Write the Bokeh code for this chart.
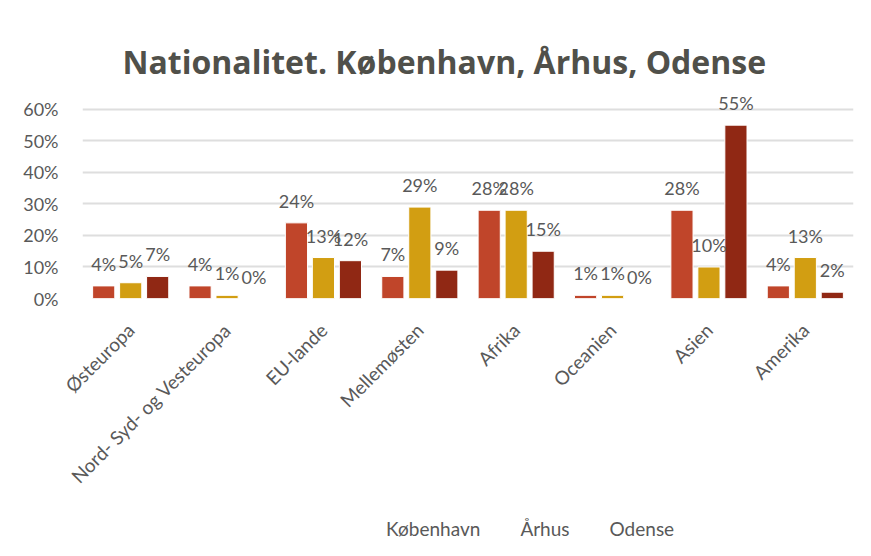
from bokeh.plotting import figure
from bokeh.models import (ColumnDataSource, LabelSet, NumeralTickFormatter, Legend, LegendItem,
                          Title, Range1d)
from bokeh.layouts import column
from bokeh.core.properties import value
from bokeh.transform import dodge
from bokeh.embed import file_html
from bokeh.resources import INLINE
from math import pi

categories = ["Østeuropa", "Nord- Syd- og Vesteuropa", "EU-lande", "Mellemøsten",
              "Afrika", "Oceanien", "Asien", "Amerika"]
series_names = ["København", "Århus", "Odense"]
kobenhavn = [0.04, 0.04, 0.24, 0.07, 0.28, 0.01, 0.28, 0.04]
aarhus = [0.05, 0.01, 0.13, 0.29, 0.28, 0.01, 0.10, 0.13]
odense = [0.07, 0.00, 0.12, 0.09, 0.15, 0.00, 0.55, 0.02]
y_ticks = [0, 0.1, 0.2, 0.3, 0.4, 0.5, 0.6]

colors = ["#C0452A", "#D29E12", "#902814"]
FONT = "Lato"
GRAY = "#595959"

p = figure(x_range=categories, y_range=(0, 0.66), width=863, height=505,
           output_backend="svg", toolbar_location=None,
           min_border_left=82, min_border_right=10, min_border_top=90, min_border_bottom=207)

t = Title(text="Nationalitet. København, Århus, Odense", align="left",
          text_font="Open Sans", text_font_size="32px", text_font_style="bold",
          text_color="#50504A", standoff=16, offset=40)
p.add_layout(t, "above")

offsets = [-0.28, 0.0, 0.28]
series = [kobenhavn, aarhus, odense]
data = dict(cat=categories)
for name, vals in zip(series_names, series):
    data[name] = vals
    data[name + "_lbl"] = ["%d%%" % round(v * 100) for v in vals]
src = ColumnDataSource(data)

for name, off, col in zip(series_names, offsets, colors):
    p.vbar(x=dodge("cat", off, range=p.x_range), top=name, width=0.23, source=src,
           fill_color=col, line_color="white", line_width=1)
    lbl = LabelSet(x=dodge("cat", off, range=p.x_range), y=name, text=name + "_lbl",
                   source=src, text_align="center", text_baseline="alphabetic",
                   y_offset=15, text_font=value(FONT), text_font_size="18px", text_color=GRAY)
    p.add_layout(lbl)

p.yaxis.ticker = y_ticks
p.yaxis.formatter = NumeralTickFormatter(format="0%")
p.yaxis.axis_line_color = None
p.yaxis.major_tick_line_color = None
p.yaxis.minor_tick_line_color = None
p.yaxis.major_label_text_font = FONT
p.yaxis.major_label_text_font_size = "18px"
p.yaxis.major_label_text_color = GRAY
p.yaxis.major_label_standoff = 18

p.xaxis.axis_line_color = None
p.xaxis.major_tick_line_color = None
p.xaxis.major_label_orientation = pi / 4
p.xaxis.major_label_text_font = FONT
p.xaxis.major_label_text_font_size = "19px"
p.xaxis.major_label_text_color = GRAY
p.xaxis.major_label_standoff = 22

p.xgrid.grid_line_color = None
p.ygrid.grid_line_color = "#DEDEDE"
p.ygrid.grid_line_width = 2
p.outline_line_color = None
p.x_range.range_padding = 0

# legend strip below the chart
pl = figure(width=863, height=43, x_range=Range1d(0, 1), y_range=Range1d(0, 1),
            output_backend="svg", toolbar_location=None,
            min_border_left=0, min_border_right=0, min_border_top=0, min_border_bottom=0)
pl.axis.visible = False
pl.grid.visible = False
pl.outline_line_color = None
items = []
for name, col in zip(series_names, colors):
    r = pl.vbar(x=[], top=[], width=0.1, fill_color=col, line_color="white", line_width=1)
    items.append(LegendItem(label=name, renderers=[r]))
legend = Legend(items=items, orientation="horizontal", location=(288, 8),
                border_line_color=None, background_fill_alpha=0,
                label_text_font=FONT, label_text_font_size="19px", label_text_color=GRAY,
                glyph_width=11, glyph_height=11, spacing=24, label_standoff=5,
                padding=2, margin=0)
pl.add_layout(legend, "center")

layout = column(p, pl, spacing=0)
open("out.html", "w").write(file_html(layout, INLINE))
